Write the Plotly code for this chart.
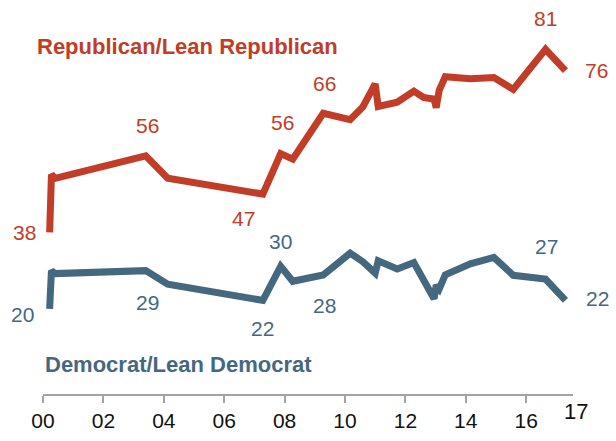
import plotly.graph_objects as go

# Survey dates (fractional years)
dates = [2000.22, 2000.28, 2000.4, 2003.4, 2004.13, 2007.28, 2007.87, 2008.27,
         2009.28, 2010.17, 2010.59, 2011.0, 2011.1, 2011.73, 2012.28, 2012.6,
         2012.95, 2013.02, 2013.12, 2013.32, 2014.15, 2014.93, 2015.57, 2016.64, 2017.3]
republican = [38, 51.6, 50.7, 56, 50.7, 47, 56.5, 55.2, 66, 64.5, 67.5, 72.9, 67.6,
              68.6, 71.2, 69.7, 69.3, 67.3, 71.4, 74.6, 74.1, 74.4, 71.6, 81, 76]
democrat = [20, 29, 28.3, 29, 25.8, 22, 30, 26.5, 28, 33.1, 31.1, 28.4, 31.3, 29.4,
            30.9, 26.7, 22.4, 25.6, 24.7, 28, 30.6, 32.1, 27.9, 27, 22]

tick_years = [2000, 2002, 2004, 2006, 2008, 2010, 2012, 2014, 2016]
tick_text = ["00", "02", "04", "06", "08", "10", "12", "14", "16"]

# labelled points: (index, label text)
rep_labels = [(0, "38"), (3, "56"), (5, "47"), (6, "56"), (8, "66"), (23, "81"), (24, "76")]
dem_labels = [(0, "20"), (3, "29"), (5, "22"), (6, "30"), (8, "28"), (23, "27"), (24, "22")]
rep_shift = [(-25, 0), (2, 30), (-19, -24), (2, 31), (1, 30), (0, 31), (31, 0)]
dem_shift = [(-27, -6), (2, -32), (0, -28), (0, 25), (1, -31), (1, 33), (32, 2)]

RED = "#C13D28"
BLUE = "#45687F"
FONT = "Liberation Sans, Arial, sans-serif"

fig = go.Figure()
fig.add_trace(go.Scatter(x=dates, y=republican, mode="lines",
                         line=dict(color=RED, width=7), hoverinfo="skip"))
fig.add_trace(go.Scatter(x=dates, y=democrat, mode="lines",
                         line=dict(color=BLUE, width=7), hoverinfo="skip"))

annotations = []
for (i, t), (dx, dy) in zip(rep_labels, rep_shift):
    annotations.append(dict(x=dates[i], y=republican[i], xref="x", yref="y", text=t,
                            showarrow=False, xshift=dx, yshift=dy,
                            font=dict(family=FONT, size=21, color=RED)))
for (i, t), (dx, dy) in zip(dem_labels, dem_shift):
    annotations.append(dict(x=dates[i], y=democrat[i], xref="x", yref="y", text=t,
                            showarrow=False, xshift=dx, yshift=dy,
                            font=dict(family=FONT, size=21, color=BLUE)))

annotations.append(dict(x=-0.016, y=0.9025, xref="paper", yref="paper",
                        text="<b>Republican/Lean Republican</b>", showarrow=False,
                        xanchor="left", yanchor="middle",
                        font=dict(family=FONT, size=22, color=RED)))
annotations.append(dict(x=0.0, y=0.0775, xref="paper", yref="paper",
                        text="<b>Democrat/Lean Democrat</b>", showarrow=False,
                        xanchor="left", yanchor="middle",
                        font=dict(family=FONT, size=22, color=BLUE)))
annotations.append(dict(x=1.0057, y=-0.045, xref="paper", yref="paper",
                        text="17", showarrow=False, xanchor="center", yanchor="middle",
                        font=dict(family=FONT, size=22, color="#111111")))

fig.update_layout(
    width=616, height=441,
    margin=dict(l=43, r=43, t=9, b=32),
    paper_bgcolor="white", plot_bgcolor="white",
    showlegend=False,
    annotations=annotations,
    xaxis=dict(range=[2000, 2017.55], tickvals=tick_years, ticktext=tick_text,
               showgrid=False, zeroline=False, showline=True, linecolor="#A3A3A3",
               linewidth=2, ticks="outside", ticklen=7, tickwidth=2, tickcolor="#A3A3A3",
               tickfont=dict(family=FONT, size=21, color="#111111")),
    yaxis=dict(range=[0, 90.5], showgrid=False, zeroline=False, showline=False,
               showticklabels=False, ticks=""),
)

fig.write_html("out.html", config={"displayModeBar": False},
               post_script="document.body.style.margin='0';document.body.style.overflow='hidden';")
